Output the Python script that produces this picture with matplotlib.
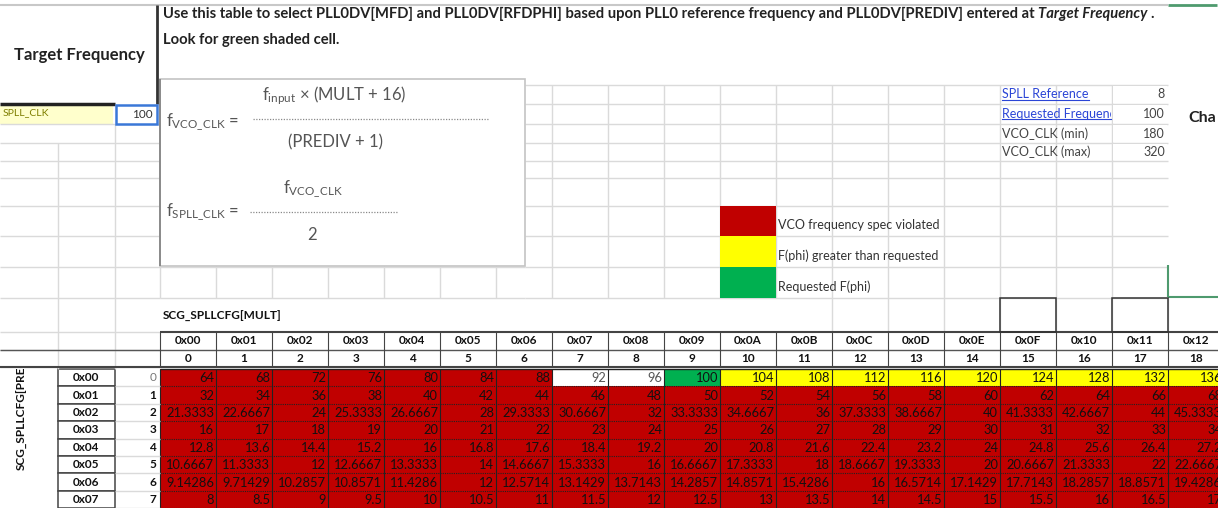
import numpy as np
import matplotlib.pyplot as plt
from matplotlib.patches import Rectangle
from matplotlib.colors import ListedColormap
from matplotlib.transforms import Bbox, TransformedBbox

plt.rcParams['font.family'] = ['Lato', 'DejaVu Sans']

# --- values ---
target_label = 'SPLL_CLK'
target_value = 100
info_labels = ['SPLL Reference', 'Requested Frequency', 'VCO_CLK (min)', 'VCO_CLK (max)']
info_values = [8, 100, 180, 320]
vco_min, vco_max = 180, 320
requested = 100

mult_hex = ['0x00', '0x01', '0x02', '0x03', '0x04', '0x05', '0x06', '0x07', '0x08', '0x09',
            '0x0A', '0x0B', '0x0C', '0x0D', '0x0E', '0x0F', '0x10', '0x11', '0x12']
mult_dec = [0, 1, 2, 3, 4, 5, 6, 7, 8, 9, 10, 11, 12, 13, 14, 15, 16, 17, 18]
prediv_hex = ['0x00', '0x01', '0x02', '0x03', '0x04', '0x05', '0x06', '0x07']
prediv_dec = [0, 1, 2, 3, 4, 5, 6, 7]

row_0 = [64, 68, 72, 76, 80, 84, 88, 92, 96, 100, 104, 108, 112, 116, 120, 124, 128, 132, 136]
row_1 = [32, 34, 36, 38, 40, 42, 44, 46, 48, 50, 52, 54, 56, 58, 60, 62, 64, 66, 68]
row_2 = [21.3333, 22.6667, 24, 25.3333, 26.6667, 28, 29.3333, 30.6667, 32, 33.3333,
         34.6667, 36, 37.3333, 38.6667, 40, 41.3333, 42.6667, 44, 45.3333]
row_3 = [16, 17, 18, 19, 20, 21, 22, 23, 24, 25, 26, 27, 28, 29, 30, 31, 32, 33, 34]
row_4 = [12.8, 13.6, 14.4, 15.2, 16, 16.8, 17.6, 18.4, 19.2, 20, 20.8, 21.6, 22.4, 23.2,
         24, 24.8, 25.6, 26.4, 27.2]
row_5 = [10.6667, 11.3333, 12, 12.6667, 13.3333, 14, 14.6667, 15.3333, 16, 16.6667,
         17.3333, 18, 18.6667, 19.3333, 20, 20.6667, 21.3333, 22, 22.6667]
row_6 = [9.14286, 9.71429, 10.2857, 10.8571, 11.4286, 12, 12.5714, 13.1429, 13.7143, 14.2857,
         14.8571, 15.4286, 16, 16.5714, 17.1429, 17.7143, 18.2857, 18.8571, 19.4286]
row_7 = [8, 8.5, 9, 9.5, 10, 10.5, 11, 11.5, 12, 12.5, 13, 13.5, 14, 14.5, 15, 15.5, 16, 16.5, 17]
f_spll = np.array([row_0, row_1, row_2, row_3, row_4, row_5, row_6, row_7])

legend_labels = ['VCO frequency spec violated', 'F(phi) greater than requested', 'Requested F(phi)']
chart_stub = 'Cha'

# --- layout (pixels) ---
W, H = 1225, 508
RED, YELLOW, GREEN = '#C00000', '#FFFF00', '#00B050'
GRID = '#DADADA'
col_edges = 160 + 56 * np.arange(len(mult_hex) + 1)
row_edges = 369 + 17.4 * np.arange(len(prediv_hex) + 1)

fig = plt.figure(figsize=(W / 100, H / 100), dpi=100)
ax = fig.add_axes([0, 0, 1, 1])
ax.set_xlim(0, W)
ax.set_ylim(H, 0)
ax.axis('off')

# light spreadsheet grid
up_rows = [85, 104, 124, 143, 161, 178, 206, 236, 267, 298]
for y in up_rows:
    ax.hlines(y, 525, 1168, color=GRID, lw=1)
for y in up_rows[2:]:
    ax.hlines(y, 0, 160, color=GRID, lw=1)
ax.hlines([267, 298], 160, 525, color=GRID, lw=1)
ax.hlines([332, 350, 367], 0, 160, color=GRID, lw=1)
for x in col_edges[7:18]:
    ax.vlines(x, 85, 298, color=GRID, lw=1)
for x in col_edges[1:7]:
    ax.vlines(x, 266, 298, color=GRID, lw=1)
for x in col_edges[12:19]:
    ax.vlines(x, 298, 332, color=GRID, lw=1)
ax.vlines(160, 266, 298, color=GRID, lw=1)
ax.vlines(58, 143, 369, color=GRID, lw=1)
ax.vlines(115, 124, 369, color=GRID, lw=1)
ax.hlines(5, 0, 1168, color='#C8C8C8', lw=1.5)

# target frequency box
ax.text(79, 55, 'Target Frequency', fontsize=12, fontweight='bold', color='#222222',
        ha='center', va='center')
ax.vlines(157, 5, 104, color='#333333', lw=2)
ax.hlines(104, 0, 115, color='#222222', lw=2.5)
ax.add_patch(Rectangle((0, 105.5), 113, 18, facecolor='#FFFFCC', edgecolor='none'))
ax.text(3, 113, target_label, fontsize=7.5, color='#7F7F00', va='center')
ax.add_patch(Rectangle((116, 105), 41, 18.5, facecolor='white', edgecolor='#3A78D8', lw=1.8, zorder=3))
ax.text(153, 114, str(target_value), fontsize=8.5, color='#333333', ha='right', va='center', zorder=4)

# instructions
t1 = ax.text(163, 14, 'Use this table to select PLL0DV[MFD] and PLL0DV[RFDPHI] based upon PLL0 '
             'reference frequency and PLL0DV[PREDIV] entered at ', fontsize=10.6,
             fontweight='bold', color='#222222', va='center')
ax.text(163, 40, 'Look for green shaded cell.', fontsize=10.6, fontweight='bold',
        color='#222222', va='center')

# formula box
ax.add_patch(Rectangle((160, 79), 365, 187, facecolor='white', edgecolor='#C4C4C4', lw=1.2, zorder=3))
ax.vlines(160, 79, 266, color='#7F7F7F', lw=1.2, zorder=4)
fcol = '#555555'
ax.text(262, 96, r'$\mathregular{f_{input}}$ × (MULT + 16)', fontsize=12, color=fcol, va='center', zorder=5)
ax.text(166, 122, r'$\mathregular{f_{VCO\_CLK}}$ =', fontsize=12, color=fcol, va='center', zorder=5)
ax.plot([253, 488], [119, 119], color='#8A8A8A', lw=0.9, ls=(0, (1, 1.2)), zorder=5)
ax.text(335, 142, '(PREDIV + 1)', fontsize=12, color=fcol, ha='center', va='center', zorder=5)
ax.text(283, 189, r'$\mathregular{f_{VCO\_CLK}}$', fontsize=12, color=fcol, va='center', zorder=5)
ax.text(166, 212, r'$\mathregular{f_{SPLL\_CLK}}$ =', fontsize=12, color=fcol, va='center', zorder=5)
ax.plot([250, 398], [212, 212], color='#8A8A8A', lw=0.9, ls=(0, (1, 1.2)), zorder=5)
ax.text(312, 235, '2', fontsize=12, color=fcol, ha='center', va='center', zorder=5)

# legend swatches
for i, (c, lab) in enumerate(zip([RED, YELLOW, GREEN], legend_labels)):
    y0, y1 = up_rows[6 + i], up_rows[7 + i]
    ax.add_patch(Rectangle((col_edges[10], y0), col_edges[11] - col_edges[10], y1 - y0,
                           facecolor=c, edgecolor='none', zorder=3))
    ax.text(col_edges[11] + 2, (y0 + y1) / 2 + 4, lab, fontsize=9, color='#333333', va='center')

# info block
links = []
for i, (lab, val) in enumerate(zip(info_labels, info_values)):
    yc = (up_rows[i] + up_rows[i + 1]) / 2
    is_link = i < 2
    t = ax.text(1002, yc, lab, fontsize=9, color='#2B45D6' if is_link else '#444444', va='center')
    t.set_clip_box(TransformedBbox(Bbox([[999, 0], [1111, H]]), ax.transData))
    t.set_clip_on(True)
    if is_link:
        links.append(t)
    # the value cell hides any overflowing label text
    ax.add_patch(Rectangle((col_edges[17] + 0.6, up_rows[i] + 0.6), 54.8, up_rows[i + 1] - up_rows[i] - 1.2,
                           facecolor='white', edgecolor='none', zorder=4))
    ax.text(1165, yc, str(val), fontsize=9, color='#444444', ha='right', va='center', zorder=5)

# chart remnant on the right
ax.text(1188, 118, chart_stub, fontsize=11.5, fontweight='bold', color='#222222', va='center')
ax.hlines(5, 1168, 1217, color='#4E9A6E', lw=2)
ax.hlines(297, 1168, 1225, color='#4E9A6E', lw=1.5)
ax.vlines(1168, 265, 297, color='#4E9A6E', lw=1.5)

# outlined header boxes
for j in (15, 17):
    ax.add_patch(Rectangle((col_edges[j], 298), 56, 34, facecolor='none', edgecolor='#333333',
                           lw=1.1, zorder=3))

ax.text(163, 316, 'SCG_SPLLCFG[MULT]', fontsize=8.5, fontweight='bold', color='#111111', va='center')

# column headers
for j in range(len(mult_hex)):
    xc = (col_edges[j] + col_edges[j + 1]) / 2
    ax.text(xc, 341, mult_hex[j], fontsize=8.5, fontweight='bold', color='#111111', ha='center', va='center')
    ax.text(xc, 359, str(mult_dec[j]), fontsize=8.5, fontweight='bold', color='#111111', ha='center', va='center')
ax.hlines(332, 160, W, color='#444444', lw=1.5)
ax.hlines(350, 0, W, color='#555555', lw=1)
ax.hlines(367, 0, W, color='#444444', lw=1.5)
ax.vlines(col_edges, 332, 367, color='#444444', lw=0.8)

# table cells coloured by status
vco = f_spll * 2
status = np.where((vco < vco_min) | (vco > vco_max), 0,
                  np.where(f_spll == requested, 3, np.where(f_spll > requested, 2, 1)))
cmap = ListedColormap([RED, 'white', YELLOW, GREEN])
ax.pcolormesh(col_edges, row_edges, status, cmap=cmap, vmin=-0.5, vmax=3.5, shading='flat')
ax.vlines(col_edges, row_edges[0], row_edges[-1], color='#222222', lw=0.8)
ax.hlines(row_edges[1:], col_edges[0], col_edges[-1], color='#222222', lw=0.8, ls=(0, (1, 1)))
ax.hlines(row_edges[0], col_edges[0], col_edges[-1], color='#222222', lw=1)
for i in range(f_spll.shape[0]):
    yc = (row_edges[i] + row_edges[i + 1]) / 2
    for j in range(f_spll.shape[1]):
        txt_col = '#555555' if status[i, j] == 1 else '#111111'
        ax.text(col_edges[j + 1] - 2, yc + 0.5, f'{f_spll[i, j]:g}', fontsize=9.3, color=txt_col,
                ha='right', va='center')

# row headers
for i in range(len(prediv_hex)):
    y0, y1 = row_edges[i], row_edges[i + 1]
    ax.add_patch(Rectangle((58, y0), 57, y1 - y0, facecolor='white', edgecolor='#444444', lw=1.1))
    ax.text(86, (y0 + y1) / 2, prediv_hex[i], fontsize=8.5, fontweight='bold', color='#111111',
            ha='center', va='center')
    ax.text(156, (y0 + y1) / 2, str(prediv_dec[i]), fontsize=8.5,
            fontweight='normal' if i == 0 else 'bold', color='#777777' if i == 0 else '#111111',
            ha='right', va='center')
    ax.hlines(y1, 115, 160, color=GRID, lw=1)
side = ax.text(22, 470, 'SCG_SPLLCFG[PREDIV]', fontsize=8.5, fontweight='bold', color='#111111',
               rotation=90, ha='center', va='bottom')
side.set_clip_box(TransformedBbox(Bbox([[0, 369], [57, H]]), ax.transData))
side.set_clip_on(True)

# finish the italic part of the first line and underline the links
fig.canvas.draw()
inv = ax.transData.inverted()
bb = t1.get_window_extent()
x_end = inv.transform((bb.x1, bb.y0))[0]
t2 = ax.text(x_end, 14, 'Target Frequency', fontsize=10.6, fontweight='bold', style='italic',
             color='#222222', va='center')
fig.canvas.draw()
bb2 = t2.get_window_extent()
ax.text(inv.transform((bb2.x1, bb2.y0))[0] + 3, 14, '.', fontsize=10.6, fontweight='bold',
        color='#222222', va='center')
for t in links:
    b = t.get_window_extent()
    (x0, y0), (x1, _) = inv.transform([(b.x0, b.y0), (b.x1, b.y1)])
    ax.plot([x0, min(x1, 1111)], [y0 - 1, y0 - 1], color='#2B45D6', lw=0.8)

# sheet is cut at the right
ax.add_patch(Rectangle((1218, 6), 7, H, facecolor='white', edgecolor='none', zorder=10))

fig.savefig('out.png', dpi=100)
